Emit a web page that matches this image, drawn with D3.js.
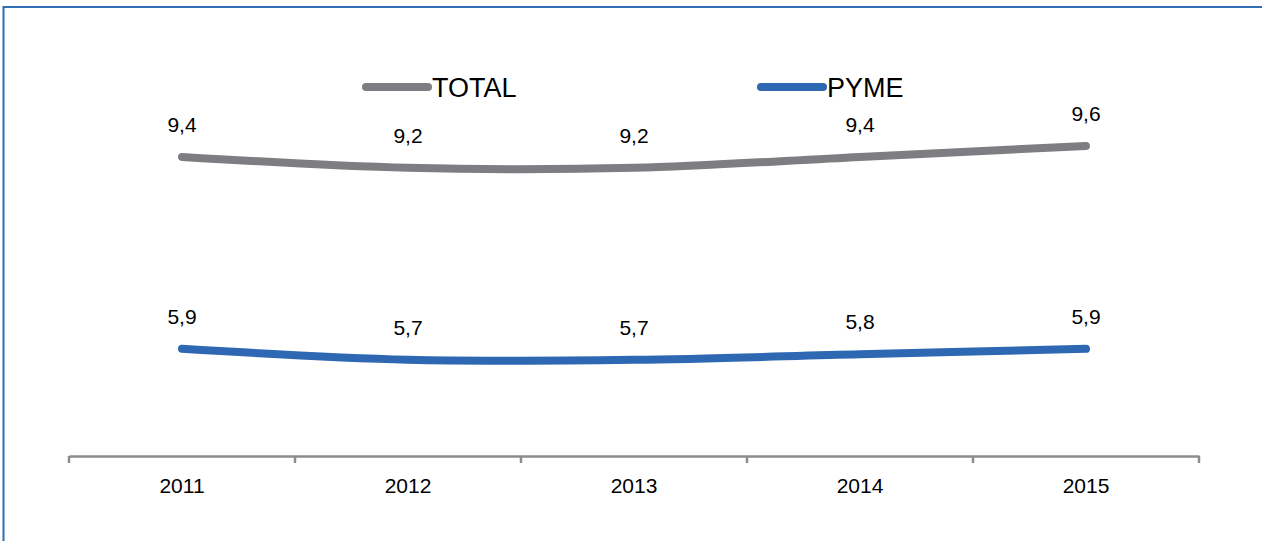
<!DOCTYPE html>
<html lang="es">
<head>
<meta charset="UTF-8">
<title>TOTAL vs PYME</title>
<script src="https://d3js.org/d3.v7.min.js"></script>
<style>
  html, body { margin: 0; padding: 0; background: #fff; }
  svg { display: block; font-family: "Liberation Sans", Arial, sans-serif; }
</style>
</head>
<body>
<script>
    // data
    const years = ['2011', '2012', '2013', '2014', '2015'];
    const totalValues = [9.4, 9.2, 9.2, 9.4, 9.6];
    const pymeValues = [5.9, 5.7, 5.7, 5.8, 5.9];
    const seriesNames = ['TOTAL', 'PYME'];
    const seriesColors = ['#7d7d82', '#2e67b2'];

    const W = 1262, H = 541;
    const left = 69, right = 1199, axisY = 456;

    const svg = d3.select("body").append("svg")
        .attr("width", W)
        .attr("height", H);

    // frame (runs off the right and bottom edge)
    svg.append("rect")
        .attr("x", 3.5).attr("y", 7)
        .attr("width", W + 10).attr("height", H + 10)
        .attr("fill", "none")
        .attr("stroke", "#2f6db5")
        .attr("stroke-width", 2);

    const x = d3.scaleBand()
        .domain(years)
        .range([left, right])
        .padding(0);

    const y = d3.scaleLinear()
        .domain([4, 10])
        .range([453, 124]);

    // x axis: labels centred, ticks on the band edges
    const axis = svg.append("g")
        .attr("transform", `translate(0,${axisY})`)
        .call(d3.axisBottom(x).tickSize(0).tickPadding(22));
    axis.select(".domain")
        .attr("stroke", "#8c8c8c")
        .attr("stroke-width", 2.5);
    axis.selectAll("text")
        .attr("font-size", 21)
        .attr("fill", "#000")
        .style("font-family", "'Liberation Sans', Arial, sans-serif");

    const edges = years.map(d => x(d)).concat([x.range()[1]]);
    svg.append("g").selectAll("line")
        .data(edges)
        .enter()
        .append("line")
        .attr("x1", d => d).attr("x2", d => d)
        .attr("y1", axisY).attr("y2", axisY + 7)
        .attr("stroke", "#8c8c8c")
        .attr("stroke-width", 2.5);

    const series = [
        { name: seriesNames[0], values: totalValues, color: seriesColors[0] },
        { name: seriesNames[1], values: pymeValues, color: seriesColors[1] }
    ];

    const line = d3.line()
        .x((d, i) => x(years[i]) + x.bandwidth() / 2)
        .y(d => y(d))
        .curve(d3.curveCatmullRom.alpha(0.5));

    series.forEach(s => {
        svg.append("path")
            .datum(s.values)
            .attr("d", line)
            .attr("fill", "none")
            .attr("stroke", s.color)
            .attr("stroke-width", 8)
            .attr("stroke-linecap", "round")
            .attr("stroke-linejoin", "round");

        svg.append("g").selectAll("text")
            .data(s.values)
            .enter()
            .append("text")
            .attr("x", (d, i) => x(years[i]) + x.bandwidth() / 2)
            .attr("y", d => y(d) - 25)
            .attr("text-anchor", "middle")
            .attr("font-size", 21)
            .attr("fill", "#000")
            .text(d => d.toFixed(1).replace('.', ','));
    });

    // legend
    const legendX = [366, 761];
    const legend = svg.append("g");
    series.forEach((s, i) => {
        legend.append("line")
            .attr("x1", legendX[i]).attr("x2", legendX[i] + 62)
            .attr("y1", 87).attr("y2", 87)
            .attr("stroke", s.color)
            .attr("stroke-width", 8)
            .attr("stroke-linecap", "round");
        legend.append("text")
            .attr("x", legendX[i] + 66)
            .attr("y", 97)
            .attr("font-size", 27)
            .attr("fill", "#000")
            .text(s.name);
    });
</script>
</body>
</html>
